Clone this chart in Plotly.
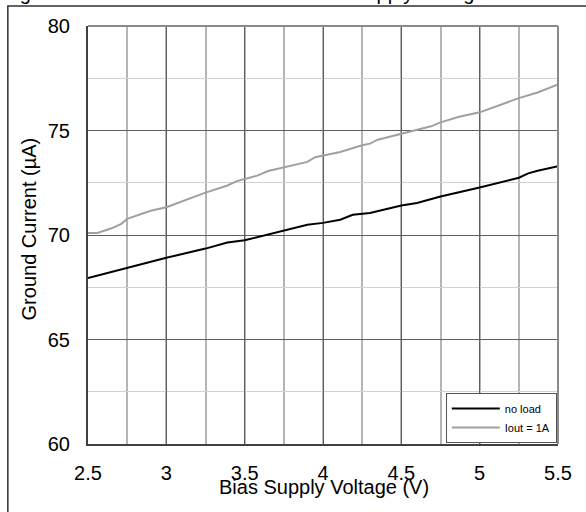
import plotly.graph_objects as go

# Data
v_noload = [2.5, 2.75, 3.0, 3.25, 3.39, 3.5, 3.61, 3.75, 3.9, 4.0, 4.11, 4.19, 4.3,
            4.5, 4.6, 4.75, 5.0, 5.25, 5.31, 5.37, 5.5]
i_noload = [67.94, 68.44, 68.91, 69.35, 69.64, 69.75, 69.95, 70.2, 70.49, 70.58, 70.73,
            70.97, 71.05, 71.41, 71.53, 71.84, 72.27, 72.74, 72.95, 73.07, 73.29]

v_1a = [2.5, 2.56, 2.65, 2.71, 2.75, 2.8, 2.9, 3.0, 3.09, 3.25, 3.39, 3.45, 3.5, 3.58,
        3.65, 3.75, 3.9, 3.95, 4.05, 4.11, 4.25, 4.3, 4.35, 4.5, 4.69, 4.75, 4.87, 5.0,
        5.13, 5.25, 5.37, 5.5]
i_1a = [70.1, 70.1, 70.32, 70.52, 70.77, 70.9, 71.16, 71.33, 71.58, 72.03, 72.37, 72.58,
        72.68, 72.84, 73.06, 73.25, 73.5, 73.72, 73.88, 73.97, 74.29, 74.37, 74.56, 74.84,
        75.2, 75.39, 75.66, 75.87, 76.22, 76.55, 76.82, 77.21]

series_names = ["no load", "Iout = 1A"]
x_ticks = [2.5, 3, 3.5, 4, 4.5, 5, 5.5]
x_tick_text = ["2.5", "3", "3.5", "4", "4.5", "5", "5.5"]
y_ticks = [60, 65, 70, 75, 80]

FONT = "Arial, Liberation Sans, sans-serif"
W, H = 586, 512
L, R, T, B = 87.5, 28.3, 25.7, 67.5
PW = W - L - R
PH = H - T - B


def px2paper_x(px):
    return (px - L) / PW


def px2paper_y(py):
    return (H - B - py) / PH


fig = go.Figure()
fig.add_trace(go.Scatter(x=v_noload, y=i_noload, mode="lines", name=series_names[0],
                         line=dict(color="#000000", width=2)))
fig.add_trace(go.Scatter(x=v_1a, y=i_1a, mode="lines", name=series_names[1],
                         line=dict(color="#a0a0a0", width=2)))

fig.update_layout(
    width=W, height=H,
    margin=dict(l=L, r=R, t=T, b=B, pad=0),
    paper_bgcolor="white", plot_bgcolor="white",
    font=dict(family=FONT, size=20, color="#000000"),
    showlegend=True,
    legend=dict(x=px2paper_x(556.5), y=px2paper_y(443.5), xanchor="right", yanchor="bottom",
                bgcolor="white", bordercolor="#555555", borderwidth=1,
                font=dict(family=FONT, size=11, color="#000000"),
                itemwidth=48, tracegroupgap=0),
    xaxis=dict(range=[2.5, 5.5], tickmode="array", tickvals=x_ticks, ticktext=x_tick_text,
               showgrid=True, gridcolor="#5e5e5e", gridwidth=1,
               minor=dict(dtick=0.25, showgrid=True, gridcolor="#b4b4b4", gridwidth=1.5),
               showline=True, linecolor="#404040", linewidth=2, zeroline=False,
               ticks="", ticklabelstandoff=10, fixedrange=True),
    yaxis=dict(range=[60, 80], tickmode="array", tickvals=y_ticks,
               showgrid=True, gridcolor="#5e5e5e", gridwidth=1,
               minor=dict(dtick=2.5, showgrid=True, gridcolor="#d2d2d2", gridwidth=1.2),
               showline=True, linecolor="#404040", linewidth=2, zeroline=False,
               ticks="", ticklabelstandoff=12, fixedrange=True),
    shapes=[
        # top and right plot-area border
        dict(type="line", xref="paper", yref="paper", x0=0, x1=1, y0=1, y1=1,
             line=dict(color="#8a8a8a", width=2), layer="above"),
        dict(type="line", xref="paper", yref="paper", x0=1, x1=1, y0=0, y1=1,
             line=dict(color="#8a8a8a", width=2), layer="above"),
        # outer chart frame (extends beyond the image)
        dict(type="rect", xref="paper", yref="paper",
             x0=px2paper_x(7.3), x1=px2paper_x(W + 20),
             y0=px2paper_y(H + 20), y1=px2paper_y(5.7),
             line=dict(color="#303030", width=1.5), layer="below"),
    ],
    annotations=[
        dict(text="Ground Current (µA)", textangle=-90, xref="paper", yref="paper",
             x=px2paper_x(28), y=px2paper_y(229), xanchor="center", yanchor="middle",
             showarrow=False, font=dict(family=FONT, size=20, color="#000000")),
        dict(text="Bias Supply Voltage (V)", xref="paper", yref="paper",
             x=px2paper_x(324), y=px2paper_y(488), xanchor="center", yanchor="middle",
             showarrow=False, font=dict(family=FONT, size=20, color="#000000")),
        dict(text="Figure 29. Ground Current versus Bias Supply Voltage", xref="paper", yref="paper",
             x=px2paper_x(0), y=px2paper_y(6), xanchor="left", yanchor="bottom",
             showarrow=False, font=dict(family=FONT, size=20, color="#000000")),
    ],
)

fig.write_html("out.html", config={"displayModeBar": False},
               post_script="document.body.style.margin='0';document.body.style.overflow='hidden';")
